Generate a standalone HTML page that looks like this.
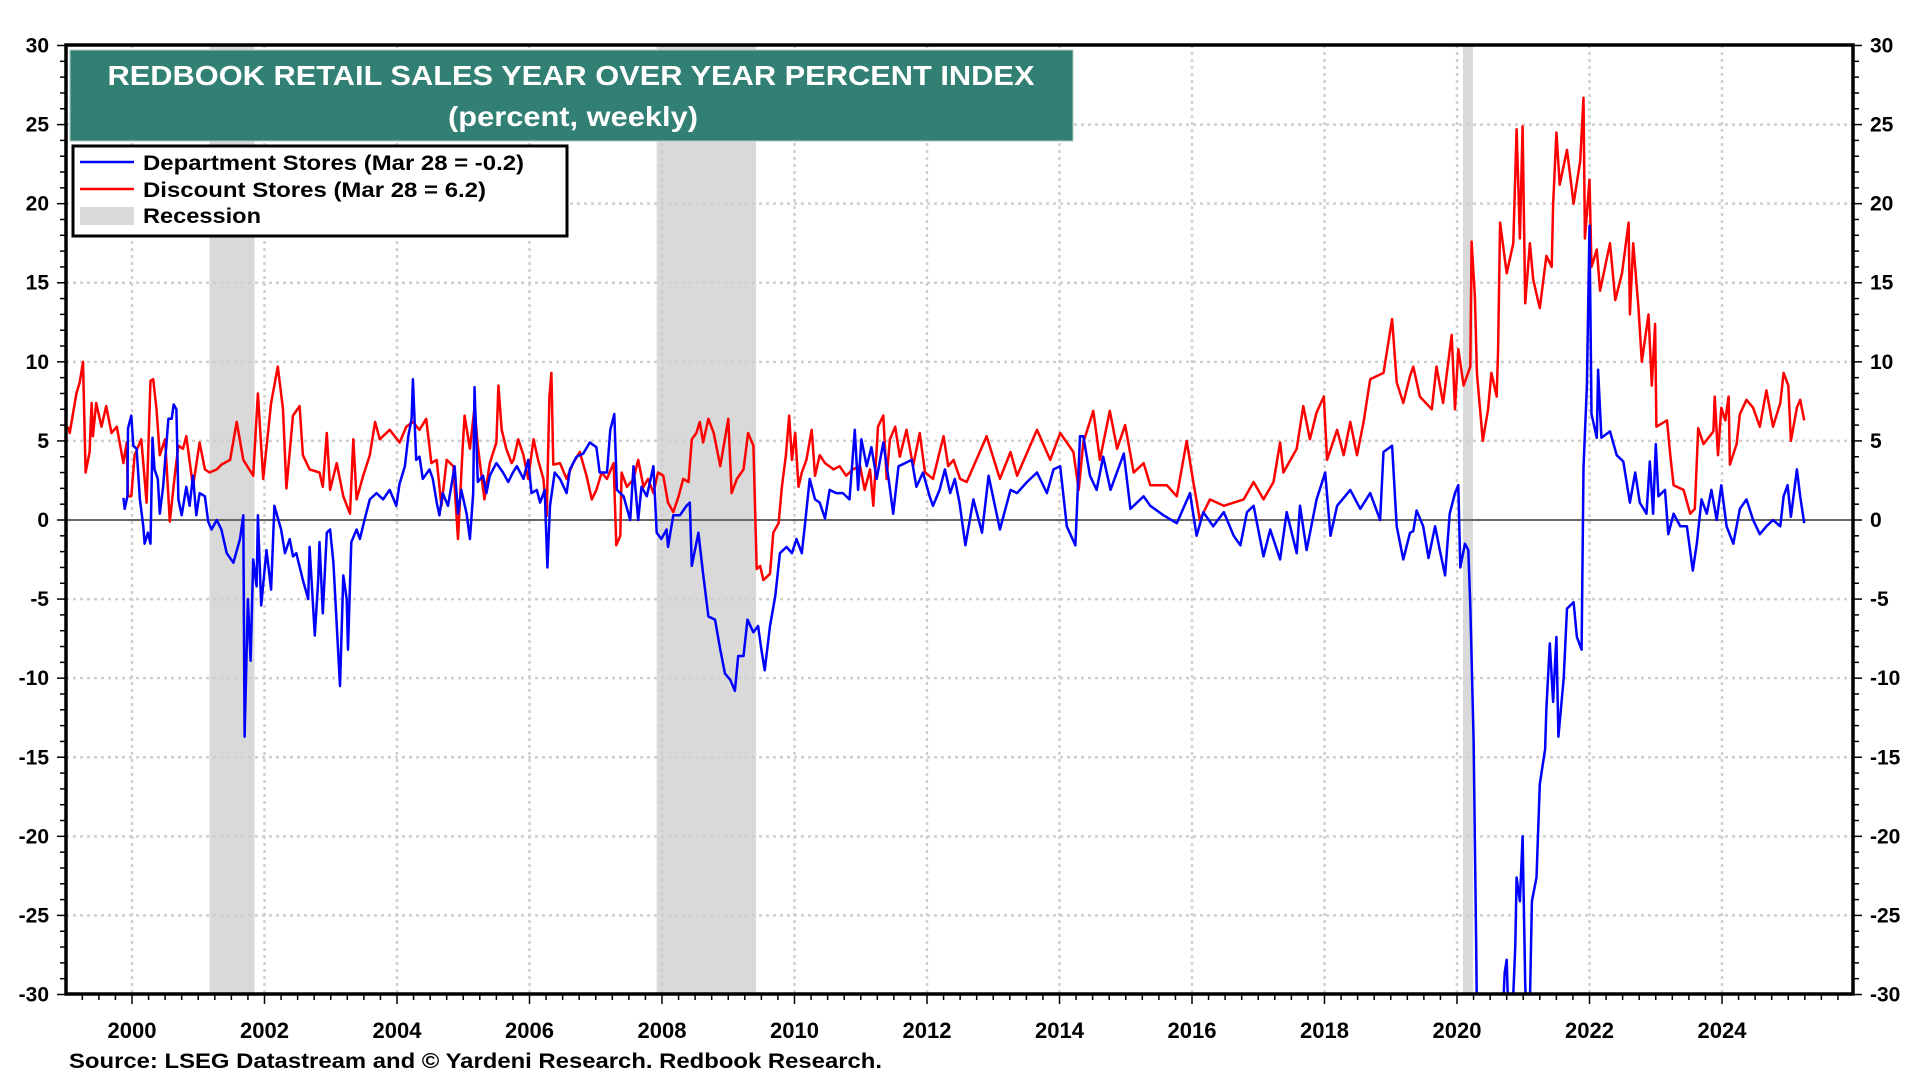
<!DOCTYPE html>
<html><head><meta charset="utf-8"><style>
html,body{margin:0;padding:0;background:#fff;}
svg{display:block;font-family:"Liberation Sans",Arial,sans-serif;font-weight:bold;}
</style></head><body>
<svg id="chart" width="1920" height="1080" viewBox="0 0 1920 1080">
<defs><clipPath id="plotclip"><rect x="66" y="45" width="1787" height="949"/></clipPath></defs>
<g id="recessions"></g>
<g id="grid"></g>
<line x1="66" x2="1853" y1="520" y2="520" stroke="#666" stroke-width="2"/>
<g clip-path="url(#plotclip)">
<path id="red-line" fill="none" stroke="#ff0000" stroke-width="2.5" stroke-linejoin="round"/>
<path id="blue-line" fill="none" stroke="#0000ff" stroke-width="2.5" stroke-linejoin="round"/>
</g>
<g id="axes"></g>
<g>
<rect x="70" y="50" width="1003" height="91" fill="#327f73" stroke="#a9cfc7" stroke-width="1"/>
<text x="571" y="85" text-anchor="middle" font-size="28" fill="#fff" textLength="927" lengthAdjust="spacingAndGlyphs">REDBOOK RETAIL SALES YEAR OVER YEAR PERCENT INDEX</text>
<text x="573" y="126" text-anchor="middle" font-size="28" fill="#fff" textLength="250" lengthAdjust="spacingAndGlyphs">(percent, weekly)</text>
</g>
<g>
<rect x="73" y="146" width="494" height="90" fill="#fff" stroke="#000" stroke-width="3"/>
<line x1="80" x2="134" y1="162" y2="162" stroke="#0000ff" stroke-width="2.5"/>
<text x="143" y="170" font-size="21" textLength="381" lengthAdjust="spacingAndGlyphs">Department Stores (Mar 28 = -0.2)</text>
<line x1="80" x2="134" y1="189" y2="189" stroke="#ff0000" stroke-width="2.5"/>
<text x="143" y="197" font-size="21" textLength="343" lengthAdjust="spacingAndGlyphs">Discount Stores (Mar 28 = 6.2)</text>
<rect x="80" y="207" width="54" height="18" fill="#d9d9d9"/>
<text x="143" y="223" font-size="21" textLength="118" lengthAdjust="spacingAndGlyphs">Recession</text>
</g>
<text x="69" y="1068" font-size="21" textLength="813" lengthAdjust="spacingAndGlyphs">Source: LSEG Datastream and © Yardeni Research. Redbook Research.</text>
</svg>
<script>
const recessionStarts=[2001.17,2007.92,2020.09];
const recessionEnds=[2001.85,2009.42,2020.24];
const yTicks=[30,25,20,15,10,5,0,-5,-10,-15,-20,-25,-30];
const xTickYears=[2000,2002,2004,2006,2008,2010,2012,2014,2016,2018,2020,2022,2024];
const redYears=[1999.04,1999.06,1999.16,1999.21,1999.26,1999.30,1999.36,1999.39,1999.41,1999.46,1999.54,1999.61,1999.69,1999.77,1999.87,1999.92,1999.94,1999.99,2000.04,2000.14,2000.22,2000.28,2000.32,2000.37,2000.42,2000.50,2000.57,2000.65,2000.70,2000.77,2000.82,2000.92,2001.02,2001.10,2001.17,2001.28,2001.35,2001.48,2001.58,2001.68,2001.83,2001.90,2001.98,2002.10,2002.20,2002.28,2002.33,2002.43,2002.53,2002.58,2002.68,2002.83,2002.88,2002.94,2002.99,2003.09,2003.19,2003.29,2003.34,2003.39,2003.49,2003.59,2003.67,2003.74,2003.89,2004.04,2004.14,2004.24,2004.34,2004.44,2004.52,2004.60,2004.67,2004.75,2004.85,2004.92,2004.99,2005.02,2005.10,2005.17,2005.22,2005.32,2005.40,2005.50,2005.53,2005.58,2005.65,2005.73,2005.76,2005.83,2005.91,2005.98,2006.06,2006.13,2006.21,2006.26,2006.30,2006.33,2006.36,2006.46,2006.56,2006.66,2006.76,2006.86,2006.94,2007.01,2007.09,2007.17,2007.27,2007.31,2007.37,2007.39,2007.47,2007.57,2007.64,2007.72,2007.79,2007.87,2007.94,2008.02,2008.09,2008.17,2008.25,2008.32,2008.40,2008.45,2008.52,2008.57,2008.62,2008.70,2008.78,2008.88,2009.00,2009.05,2009.13,2009.23,2009.30,2009.38,2009.43,2009.48,2009.53,2009.63,2009.68,2009.76,2009.81,2009.87,2009.92,2009.96,2010.01,2010.06,2010.11,2010.18,2010.26,2010.31,2010.38,2010.46,2010.59,2010.68,2010.78,2010.88,2010.99,2011.06,2011.14,2011.19,2011.26,2011.34,2011.39,2011.44,2011.52,2011.59,2011.69,2011.79,2011.89,2011.97,2012.09,2012.19,2012.25,2012.32,2012.40,2012.50,2012.60,2012.90,2013.10,2013.26,2013.36,2013.66,2013.86,2014.01,2014.21,2014.29,2014.36,2014.51,2014.61,2014.76,2014.87,2014.99,2015.12,2015.27,2015.37,2015.62,2015.77,2015.92,2016.02,2016.12,2016.27,2016.48,2016.78,2016.93,2017.08,2017.23,2017.33,2017.38,2017.58,2017.68,2017.78,2017.88,2017.99,2018.04,2018.19,2018.29,2018.39,2018.49,2018.59,2018.69,2018.89,2019.02,2019.09,2019.19,2019.29,2019.34,2019.44,2019.62,2019.69,2019.79,2019.92,2019.97,2020.02,2020.10,2020.20,2020.22,2020.27,2020.30,2020.39,2020.47,2020.52,2020.60,2020.62,2020.65,2020.75,2020.85,2020.90,2020.95,2020.99,2021.03,2021.10,2021.15,2021.25,2021.35,2021.43,2021.45,2021.50,2021.55,2021.66,2021.76,2021.86,2021.91,2021.93,2022.00,2022.03,2022.11,2022.16,2022.31,2022.39,2022.49,2022.59,2022.61,2022.66,2022.74,2022.79,2022.89,2022.94,2022.99,2023.01,2023.17,2023.22,2023.27,2023.42,2023.52,2023.59,2023.64,2023.72,2023.87,2023.89,2023.94,2023.99,2024.05,2024.10,2024.12,2024.22,2024.27,2024.37,2024.47,2024.57,2024.67,2024.77,2024.88,2024.93,2025.00,2025.04,2025.13,2025.18,2025.24];
const redValues=[5.9,5.5,8.0,8.7,10.0,3.0,4.3,7.4,5.3,7.4,5.9,7.2,5.5,5.9,3.6,4.9,1.5,1.5,4.1,5.1,1.1,8.8,8.9,7.0,4.1,5.1,-0.1,3.0,4.7,4.5,5.3,2.1,4.9,3.2,3.0,3.2,3.5,3.8,6.2,3.8,2.8,8.0,2.6,7.4,9.7,7.0,2.0,6.6,7.2,4.1,3.2,3.0,2.1,5.5,1.9,3.6,1.5,0.4,5.1,1.3,2.8,4.1,6.2,5.1,5.7,4.9,5.9,6.2,5.7,6.4,3.6,3.8,0.9,3.8,3.4,-1.2,4.5,6.6,4.5,7.1,4.7,1.3,3.6,4.9,8.5,5.7,4.5,3.6,3.8,5.1,4.1,2.6,5.1,3.8,2.6,0.25,7.8,9.3,3.5,3.6,2.6,3.6,4.3,2.8,1.3,1.9,3.0,2.6,3.6,-1.6,-1.0,3.0,2.1,2.6,3.8,2.1,2.6,1.7,3.0,2.8,1.1,0.5,1.5,2.6,2.4,5.1,5.5,6.2,4.9,6.4,5.5,3.4,6.4,1.7,2.6,3.2,5.5,4.7,-3.1,-2.9,-3.8,-3.4,-0.8,-0.2,2.1,4.1,6.6,3.8,5.5,2.1,3.0,3.8,5.7,2.8,4.1,3.6,3.2,3.4,2.8,3.2,3.4,1.9,3.2,0.9,5.9,6.6,2.6,5.1,5.9,4.0,5.7,3.4,5.5,3.0,2.6,4.3,5.3,3.4,3.8,2.6,2.4,5.3,2.6,4.3,2.8,5.7,3.8,5.5,4.3,1.9,4.9,6.9,3.8,6.9,4.5,6.0,3.0,3.6,2.2,2.2,1.5,5.0,2.4,0.0,1.3,0.9,1.3,2.4,1.3,2.4,4.9,3.0,4.5,7.2,5.1,6.8,7.8,3.8,5.7,4.1,6.2,4.1,6.2,8.9,9.3,12.7,8.7,7.4,9.1,9.7,7.8,7.0,9.7,7.4,11.7,7.0,10.8,8.5,9.7,17.6,14.1,9.3,5.0,7.0,9.3,7.8,10.8,18.8,15.6,17.5,24.7,17.8,24.9,13.7,17.5,15.2,13.4,16.7,16.0,19.9,24.5,21.2,23.4,20.0,22.7,26.7,17.8,21.5,16.0,17.1,14.5,17.5,13.9,15.6,18.8,13.0,17.5,13.4,10.0,13.0,8.5,12.4,5.9,6.3,4.1,2.2,1.9,0.4,0.7,5.8,4.8,5.6,7.8,4.1,7.1,6.3,7.8,3.5,4.8,6.7,7.6,7.1,5.9,8.2,5.9,7.4,9.3,8.5,5.0,7.1,7.6,6.3];
const blueYears=[1999.87,1999.89,1999.93,1999.94,1999.99,2000.02,2000.07,2000.12,2000.17,2000.19,2000.24,2000.28,2000.31,2000.34,2000.39,2000.42,2000.47,2000.55,2000.60,2000.63,2000.67,2000.70,2000.75,2000.82,2000.87,2000.92,2000.97,2001.02,2001.10,2001.15,2001.20,2001.28,2001.35,2001.43,2001.53,2001.63,2001.68,2001.70,2001.75,2001.79,2001.83,2001.88,2001.90,2001.95,2002.03,2002.10,2002.15,2002.25,2002.31,2002.38,2002.43,2002.48,2002.58,2002.66,2002.68,2002.76,2002.81,2002.83,2002.88,2002.94,2002.99,2003.04,2003.14,2003.19,2003.24,2003.26,2003.31,2003.39,2003.44,2003.51,2003.59,2003.69,2003.79,2003.89,2003.99,2004.04,2004.12,2004.17,2004.22,2004.24,2004.29,2004.34,2004.39,2004.49,2004.54,2004.60,2004.64,2004.69,2004.77,2004.87,2004.92,2004.97,2005.05,2005.10,2005.15,2005.17,2005.22,2005.30,2005.35,2005.40,2005.50,2005.60,2005.68,2005.75,2005.81,2005.91,2005.98,2006.03,2006.11,2006.16,2006.23,2006.27,2006.31,2006.38,2006.46,2006.56,2006.61,2006.71,2006.81,2006.91,2007.01,2007.06,2007.17,2007.22,2007.28,2007.32,2007.42,2007.52,2007.57,2007.64,2007.69,2007.77,2007.87,2007.92,2007.99,2008.07,2008.09,2008.17,2008.27,2008.37,2008.42,2008.45,2008.55,2008.62,2008.70,2008.80,2008.88,2008.95,2009.03,2009.10,2009.15,2009.23,2009.29,2009.38,2009.45,2009.50,2009.55,2009.63,2009.71,2009.78,2009.88,2009.96,2010.03,2010.11,2010.16,2010.23,2010.31,2010.38,2010.46,2010.53,2010.63,2010.73,2010.83,2010.91,2010.96,2011.01,2011.09,2011.16,2011.24,2011.34,2011.42,2011.49,2011.57,2011.67,2011.77,2011.84,2011.94,2012.04,2012.09,2012.19,2012.27,2012.35,2012.42,2012.49,2012.58,2012.70,2012.83,2012.93,2013.10,2013.26,2013.36,2013.51,2013.66,2013.81,2013.91,2014.01,2014.11,2014.24,2014.31,2014.36,2014.46,2014.56,2014.66,2014.77,2014.97,2015.07,2015.27,2015.37,2015.57,2015.77,2015.97,2016.07,2016.17,2016.32,2016.48,2016.63,2016.73,2016.83,2016.93,2017.08,2017.18,2017.33,2017.43,2017.58,2017.63,2017.73,2017.88,2018.01,2018.09,2018.19,2018.39,2018.54,2018.69,2018.84,2018.89,2019.02,2019.09,2019.19,2019.29,2019.34,2019.39,2019.49,2019.57,2019.67,2019.74,2019.82,2019.89,2019.97,2020.02,2020.05,2020.12,2020.17,2020.20,2020.25,2020.29,2020.31,2020.65,2020.72,2020.75,2020.80,2020.88,2020.90,2020.95,2020.99,2021.03,2021.08,2021.13,2021.20,2021.25,2021.33,2021.35,2021.40,2021.45,2021.50,2021.53,2021.61,2021.66,2021.76,2021.81,2021.88,2021.91,2021.96,2022.00,2022.03,2022.11,2022.13,2022.18,2022.31,2022.41,2022.51,2022.61,2022.69,2022.76,2022.86,2022.91,2022.96,2023.00,2023.04,2023.14,2023.19,2023.27,2023.37,2023.47,2023.56,2023.62,2023.69,2023.77,2023.84,2023.92,2023.99,2024.07,2024.17,2024.27,2024.37,2024.47,2024.57,2024.67,2024.77,2024.88,2024.93,2024.99,2025.04,2025.13,2025.18,2025.24];
const blueValues=[1.4,0.7,1.5,5.8,6.6,4.7,4.5,1.3,-0.4,-1.5,-0.8,-1.5,5.2,3.2,2.6,0.4,2.1,6.4,6.4,7.3,7.0,1.3,0.3,2.1,0.9,2.8,0.3,1.7,1.5,-0.1,-0.6,0.0,-0.6,-2.1,-2.7,-1.2,0.3,-13.7,-5.0,-8.9,-2.5,-4.2,0.3,-5.4,-1.9,-4.4,0.9,-0.6,-2.1,-1.2,-2.3,-2.1,-3.8,-5.0,-1.7,-7.3,-3.8,-1.4,-5.9,-0.8,-0.6,-2.7,-10.5,-3.5,-5.0,-8.2,-1.4,-0.6,-1.2,0.0,1.3,1.7,1.3,1.9,0.9,2.3,3.4,5.3,6.4,8.9,3.8,4.0,2.6,3.2,2.6,1.1,0.3,1.7,0.9,3.4,0.4,1.9,0.4,-1.2,1.7,8.4,2.4,2.8,1.7,2.8,3.6,3.0,2.4,3.0,3.4,2.6,3.8,1.7,1.9,1.1,1.9,-3.0,0.9,3.0,2.6,1.7,3.2,4.0,4.2,4.9,4.6,3.0,3.0,5.7,6.7,1.9,1.5,0.0,3.4,0.0,2.1,1.5,3.4,-0.8,-1.2,-0.6,-1.7,0.3,0.3,0.9,1.1,-2.9,-0.8,-3.4,-6.1,-6.3,-8.2,-9.7,-10.1,-10.8,-8.6,-8.6,-6.3,-7.1,-6.7,-8.2,-9.5,-6.7,-4.8,-2.1,-1.7,-2.1,-1.2,-2.1,-0.2,2.6,1.3,1.1,0.1,1.9,1.7,1.7,1.3,5.7,1.9,5.1,3.4,4.6,2.6,4.9,2.6,0.4,3.4,3.6,3.8,2.1,3.0,1.5,0.9,1.9,3.2,1.7,2.6,1.1,-1.6,1.3,-0.8,2.8,-0.6,1.9,1.7,2.4,3.0,1.7,3.2,3.4,-0.4,-1.6,5.3,5.3,2.8,1.9,4.0,1.9,4.2,0.7,1.5,0.9,0.3,-0.2,1.7,-1.0,0.5,-0.4,0.5,-1.0,-1.6,0.5,0.9,-2.3,-0.6,-2.5,0.5,-2.1,0.9,-1.9,1.3,3.0,-1.0,0.9,1.9,0.7,1.7,0.0,4.3,4.7,-0.4,-2.5,-0.8,-0.7,0.6,-0.4,-2.4,-0.4,-1.9,-3.5,0.4,1.7,2.2,-3.0,-1.5,-1.9,-5.4,-13.9,-27.0,-35,-35,-28.6,-27.8,-35,-26.9,-22.6,-24.1,-20.0,-29.3,-35,-24.1,-22.6,-16.7,-14.5,-11.9,-7.8,-11.5,-7.4,-13.7,-10.0,-5.6,-5.2,-7.4,-8.2,3.3,8.5,18.6,6.7,5.2,9.5,5.2,5.6,4.1,3.7,1.1,3.0,1.1,0.4,3.7,0.4,4.8,1.5,1.9,-0.9,0.4,-0.4,-0.4,-3.2,-1.5,1.3,0.4,1.9,0.0,2.2,-0.4,-1.5,0.7,1.3,0.0,-0.9,-0.4,0.0,-0.4,1.5,2.2,0.2,3.2,1.5,-0.2];

const X0=66,X1=1853,Y0=45,Y1=994;
function xs(yr){return 132+(yr-2000)*66.25;}
function ys(v){return 520-v*15.8167;}
const NS='http://www.w3.org/2000/svg';
function mk(tag,attrs,parent){const e=document.createElementNS(NS,tag);for(const k in attrs)e.setAttribute(k,attrs[k]);parent.appendChild(e);return e;}

const rg=document.getElementById('recessions');
recessionStarts.forEach((s,i)=>{
  const r=mk('rect',{x:xs(s),y:Y0,width:xs(recessionEnds[i])-xs(s),height:Y1-Y0,fill:'#d9d9d9'},rg);
  
  
});
const gg=document.getElementById('grid');
yTicks.forEach(v=>{
  if(v===0||v===30||v===-30)return;
  const l=mk('line',{x1:X0,x2:X1,y1:ys(v),y2:ys(v),stroke:'#cfcfcf','stroke-width':2.5,'stroke-dasharray':'3 4'},gg);
  
  
});
xTickYears.forEach(yr=>{
  const l=mk('line',{x1:xs(yr),x2:xs(yr),y1:Y0,y2:Y1,stroke:'#cfcfcf','stroke-width':2.5,'stroke-dasharray':'3 4'},gg);
  
  
});
function pathFor(yrs,vals){return yrs.map((y,i)=>(i?'L':'M')+xs(y).toFixed(1)+' '+ys(vals[i]).toFixed(1)).join(' ');}
document.getElementById('red-line').setAttribute('d',pathFor(redYears,redValues));
document.getElementById('blue-line').setAttribute('d',pathFor(blueYears,blueValues));

const ax=document.getElementById('axes');
const frame=mk('rect',{x:X0,y:Y0,width:X1-X0,height:Y1-Y0,fill:'none',stroke:'#000','stroke-width':3.5},ax);


for(let v=-30;v<=30;v++){
  const major=v%5===0;const len=major?9:6;
  mk('line',{x1:X0-len,x2:X0,y1:ys(v),y2:ys(v),stroke:'#000','stroke-width':1.5},ax);
  mk('line',{x1:X1,x2:X1+len,y1:ys(v),y2:ys(v),stroke:'#000','stroke-width':1.5},ax);
}
for(let q=1999*4;q<=2026*4;q++){
  const yr=q/4;const x=xs(yr);if(x<X0||x>X1)continue;
  const major=(q%4===0&&(q/4)%2===0);
  mk('line',{x1:x,x2:x,y1:Y1,y2:Y1+(major?10:6),stroke:'#000','stroke-width':1.5},ax);
}
yTicks.forEach(v=>{
  const a=mk('text',{x:49,y:ys(v)+7,'text-anchor':'end','font-size':21},ax);
  a.textContent=String(v);
  
  
  const b=mk('text',{x:1870,y:ys(v)+7,'text-anchor':'start','font-size':21},ax);
  b.textContent=String(v);
  
  
});
xTickYears.forEach(yr=>{
  const t=mk('text',{x:xs(yr),y:1038,'text-anchor':'middle','font-size':22},ax);
  t.textContent=String(yr);
  
  
});
</script>
</body></html>
